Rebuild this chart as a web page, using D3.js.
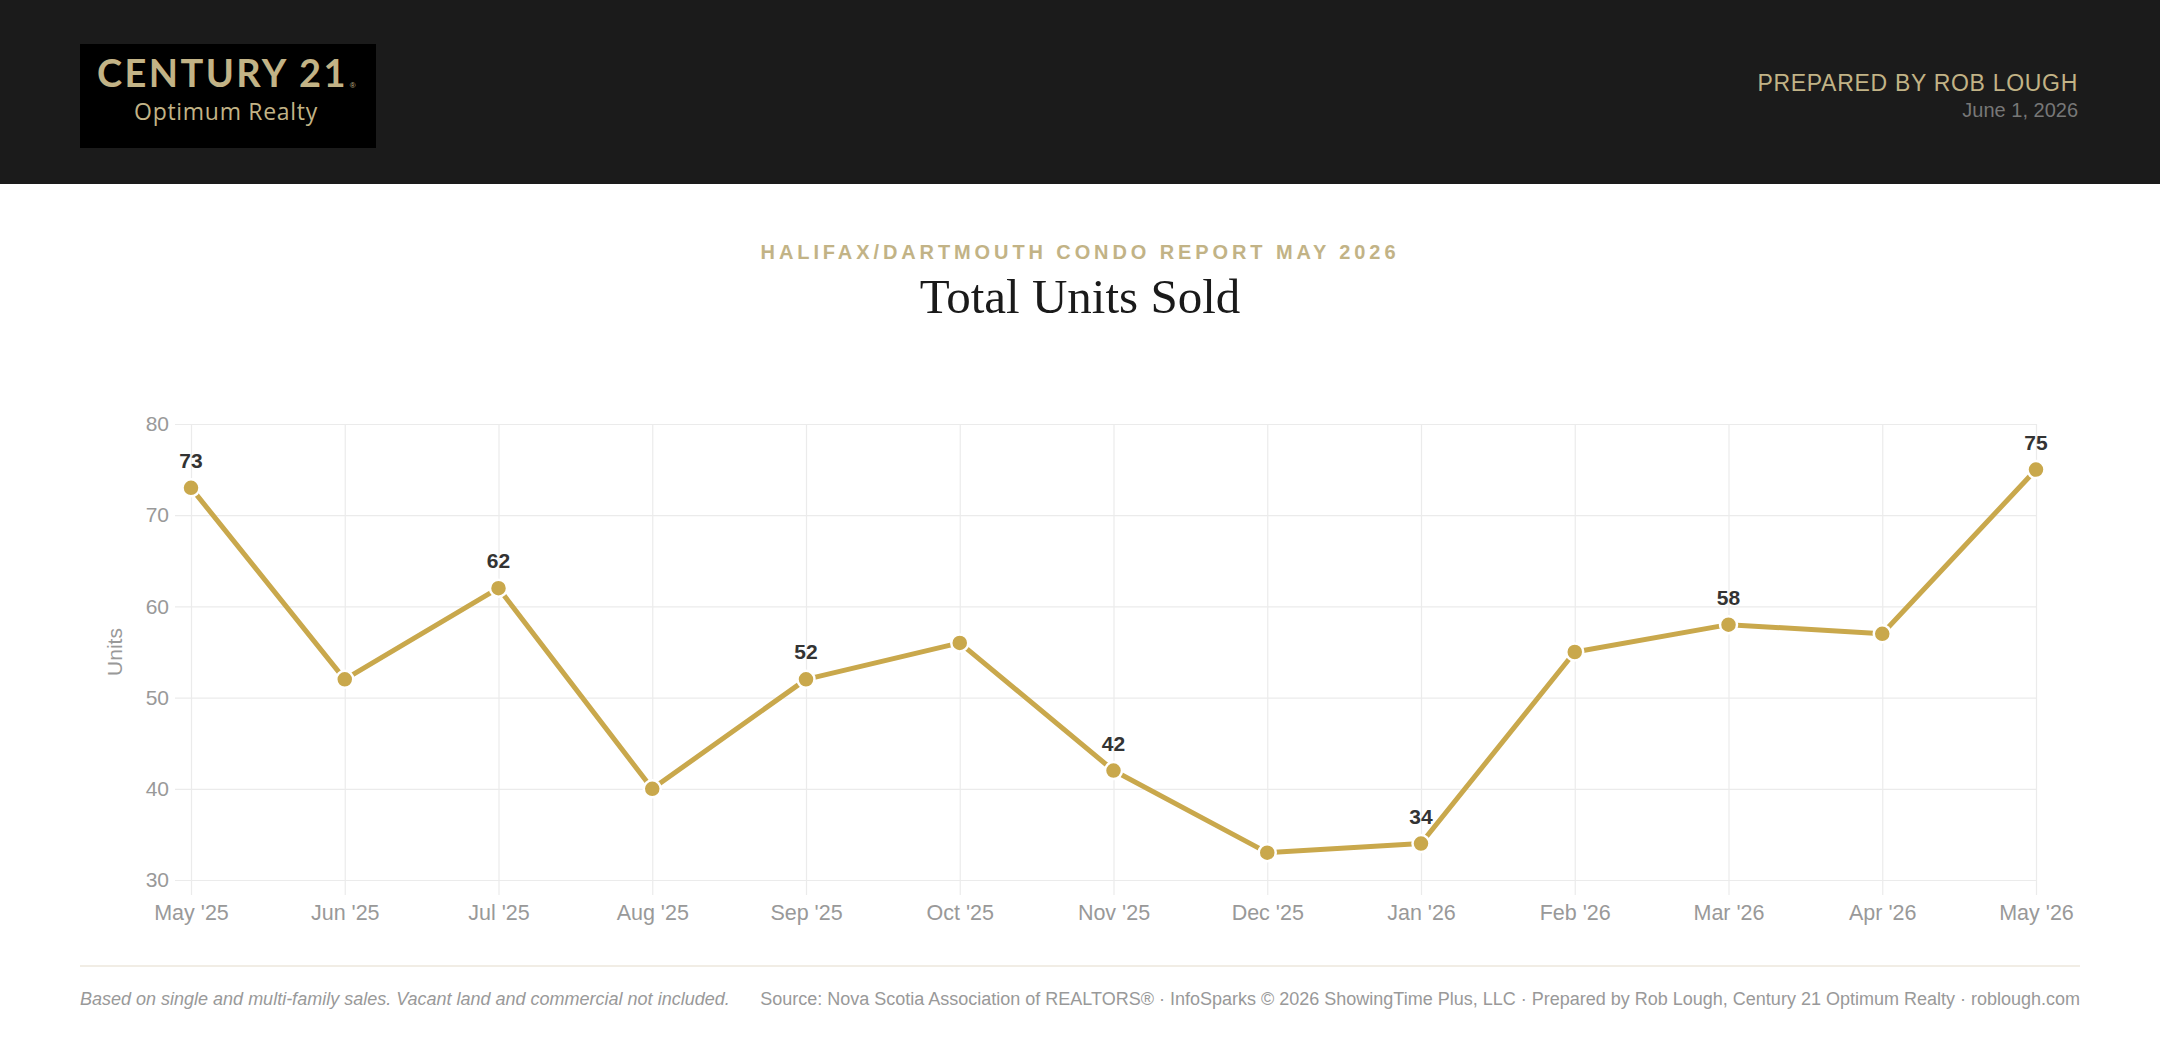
<!DOCTYPE html>
<html>
<head>
<meta charset="utf-8">
<script src="https://cdn.jsdelivr.net/npm/d3@7"></script>
<style>
  html, body { margin: 0; padding: 0; background: #fff; }
  svg { display: block; }
</style>
</head>
<body>
<svg id="chart" width="2160" height="1048"></svg>
<script>
const months = ["May '25","Jun '25","Jul '25","Aug '25","Sep '25","Oct '25","Nov '25","Dec '25","Jan '26","Feb '26","Mar '26","Apr '26","May '26"];
const unitsSold = [73, 52, 62, 40, 52, 56, 42, 33, 34, 55, 58, 57, 75];
const labeledMonths = ["May '25","Jul '25","Sep '25","Nov '25","Jan '26","Mar '26","May '26"];
const yTicks = [30, 40, 50, 60, 70, 80];

const svg = d3.select("#chart");
const W = 2160, H = 1048;
const gold = "#c9a84c";
const beige = "#c2b386";

// Header
svg.append("rect").attr("x",0).attr("y",0).attr("width",W).attr("height",184).attr("fill","#1b1b1b");
svg.append("rect").attr("x",80).attr("y",44).attr("width",296).attr("height",104).attr("fill","#000");
const c21 = svg.append("text").attr("x",97).attr("y",87)
  .attr("font-family","Lato, 'Open Sans', sans-serif").attr("font-weight",700)
  .attr("font-size",38).attr("letter-spacing",2.4).attr("fill",beige).text("CENTURY 21");
const c21w = c21.node().getComputedTextLength();
svg.append("text").attr("x",97 + c21w + 2).attr("y",88)
  .attr("font-family","Arial, sans-serif").attr("font-size",8).attr("fill",beige).text("®");
svg.append("text").attr("x",226).attr("y",120).attr("text-anchor","middle")
  .attr("font-family","'Open Sans', Lato, sans-serif").attr("font-weight",500)
  .attr("font-size",23).attr("letter-spacing",0.7).attr("fill",beige).text("Optimum Realty");

svg.append("text").attr("x",2078).attr("y",91).attr("text-anchor","end")
  .attr("font-family","Liberation Sans, Arial, sans-serif").attr("font-size",23)
  .attr("letter-spacing",0.7).attr("fill",beige).text("PREPARED BY ROB LOUGH");
svg.append("text").attr("x",2078).attr("y",117).attr("text-anchor","end")
  .attr("font-family","Liberation Sans, Arial, sans-serif").attr("font-size",20)
  .attr("fill","#777").text("June 1, 2026");

// Titles
svg.append("text").attr("x",1080).attr("y",259).attr("text-anchor","middle")
  .attr("font-family","Liberation Sans, Arial, sans-serif").attr("font-weight",700)
  .attr("font-size",20).attr("letter-spacing",3.9).attr("fill",beige)
  .text("HALIFAX/DARTMOUTH CONDO REPORT MAY 2026");
svg.append("text").attr("x",1080).attr("y",313).attr("text-anchor","middle")
  .attr("font-family","Liberation Serif, 'Times New Roman', serif")
  .attr("font-size",49).attr("fill","#1a1a1a").text("Total Units Sold");

// Scales
const x = d3.scalePoint().domain(months).range([191, 2036]);
const y = d3.scaleLinear().domain([30, 80]).range([880, 424]);

// Y axis with grid
const gy = svg.append("g").attr("transform","translate(175,0)")
  .call(d3.axisLeft(y).tickValues(yTicks).tickSize(-(2036-175)).tickPadding(6));
gy.select(".domain").remove();
gy.selectAll(".tick line").attr("stroke","#ebebeb").attr("stroke-width",1.2);
gy.selectAll(".tick text").attr("font-family","Liberation Sans, Arial, sans-serif")
  .attr("font-size",21).attr("fill","#999");

// X axis with grid
const gx = svg.append("g").attr("transform","translate(0,895)")
  .call(d3.axisBottom(x).tickSize(-(895-424)).tickPadding(10));
gx.select(".domain").remove();
gx.selectAll(".tick line").attr("stroke","#ebebeb").attr("stroke-width",1.2);
gx.selectAll(".tick text").attr("font-family","Liberation Sans, Arial, sans-serif")
  .attr("font-size",21.5).attr("fill","#999");

// Y title
svg.append("text").attr("transform","translate(122,652) rotate(-90)")
  .attr("text-anchor","middle").attr("font-family","Liberation Sans, Arial, sans-serif")
  .attr("font-size",21).attr("fill","#999").text("Units");

// Line
const data = months.map((m,i)=>({m, v: unitsSold[i]}));
svg.append("path").datum(data)
  .attr("fill","none").attr("stroke",gold).attr("stroke-width",5)
  .attr("stroke-linejoin","round")
  .attr("d", d3.line().x(d=>x(d.m)).y(d=>y(d.v)));

svg.selectAll("circle.pt").data(data).enter().append("circle")
  .attr("class","pt").attr("cx",d=>x(d.m)).attr("cy",d=>y(d.v)).attr("r",8.5)
  .attr("fill",gold).attr("stroke","#fff").attr("stroke-width",2.5);

svg.selectAll("text.lbl").data(data.filter(d=>labeledMonths.includes(d.m))).enter().append("text")
  .attr("class","lbl").attr("x",d=>x(d.m)).attr("y",d=>y(d.v)-20)
  .attr("text-anchor","middle").attr("font-family","Liberation Sans, Arial, sans-serif")
  .attr("font-weight",700).attr("font-size",21).attr("fill","#333").text(d=>d.v);

// Footer
svg.append("line").attr("x1",80).attr("x2",2080).attr("y1",966).attr("y2",966)
  .attr("stroke","#ece7dd").attr("stroke-width",1.5);
svg.append("text").attr("x",80).attr("y",1005)
  .attr("font-family","Liberation Sans, Arial, sans-serif").attr("font-style","italic")
  .attr("font-size",18).attr("fill","#999")
  .text("Based on single and multi-family sales. Vacant land and commercial not included.");
svg.append("text").attr("x",2080).attr("y",1005).attr("text-anchor","end")
  .attr("font-family","Liberation Sans, Arial, sans-serif")
  .attr("font-size",18).attr("fill","#999")
  .text("Source: Nova Scotia Association of REALTORS® · InfoSparks © 2026 ShowingTime Plus, LLC · Prepared by Rob Lough, Century 21 Optimum Realty · roblough.com");
</script>
</body>
</html>
